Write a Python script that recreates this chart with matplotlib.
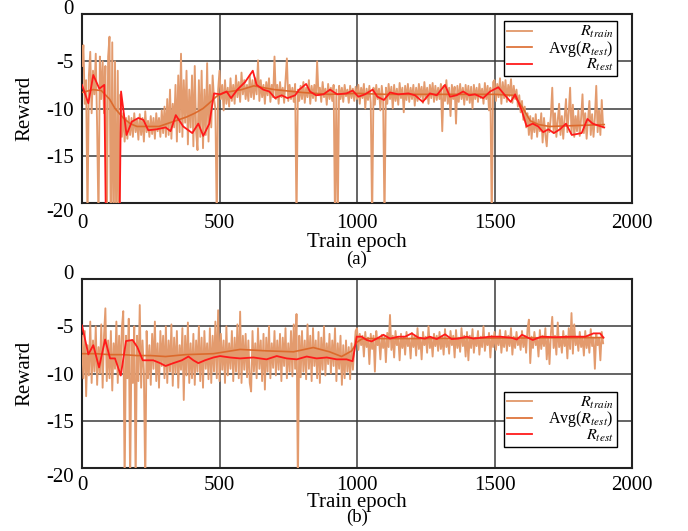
import numpy as np
import matplotlib
matplotlib.use("Agg")
import matplotlib.pyplot as plt
import matplotlib.transforms as mtransforms

plt.rcParams['font.family'] = ['Liberation Serif', 'DejaVu Serif']
plt.rcParams['mathtext.fontset'] = 'stix'

# ---------------- data ----------------
train_epochs = list(range(0, 1900, 5))

train_a = [
    -5.5, -3.3, -9.5, -7.0, -22, -6.5, -4.0, -10.5, -6.0, -8.5, -4.2, -12.0, -22, -4.5, -9.0, -5.0, -10.5, -5.5, -24, -4.5,
    -2.4, -25, -3.0, -24, -5.0, -25, -6.0, -24, -8.5, -13.0, -10.5, -13.5, -11.0, -13.2, -10.8, -12.8, -11.0, -13.0, -10.5, -12.5,
    -11.2, -13.3, -10.6, -12.8, -11.0, -13.5, -10.3, -12.5, -11.3, -13.0, -10.8, -12.7, -11.0, -13.2, -10.5, -12.4, -11.0, -13.0, -10.2, -12.6,
    -9.8, -13.0, -9.0, -12.8, -8.0, -13.2, -9.5, -12.0, -7.5, -13.5, -6.5, -12.5, -4.2, -13.0, -7.0, -11.5, -6.0, -13.8, -8.0, -12.0,
    -6.5, -14.0, -5.5, -12.5, -14.4, -7.0, -13.0, -6.0, -14.2, -8.0, -12.8, -5.2, -13.5, -7.5, -12.0, -6.5, -9.0, -10.0, -22, -8.0,
    -6.0, -9.0, -7.5, -10.2, -7.0, -9.5, -7.8, -9.8, -6.8, -9.2, -7.5, -9.5, -6.5, -8.8, -7.2, -9.3, -6.2, -8.5, -7.0, -9.0,
    -7.5, -9.2, -6.5, -8.8, -7.0, -9.0, -6.8, -8.5, -4.9, -9.2, -7.0, -8.8, -7.5, -9.5, -7.2, -8.6, -6.8, -9.3, -7.5, -8.8,
    -4.5, -9.0, -7.5, -9.5, -7.2, -8.8, -7.8, -9.4, -7.0, -4.7, -9.2, -7.5, -9.0, -7.8, -9.3, -7.4, -22, -8.0, -9.2, -7.6,
    -9.0, -7.2, -9.4, -7.8, -8.8, -7.0, -9.5, -7.6, -8.9, -7.5, -9.2, -5.0, -8.6, -7.8, -9.3, -7.2, -8.8, -7.9, -9.6, -7.4,
    -9.0, -7.8, -9.2, -7.5, -22, -8.0, -22, -7.6, -9.0, -7.8, -9.3, -7.5, -8.7, -8.0, -9.4, -7.6, -8.9, -7.9, -9.2, -7.7,
    -9.0, -7.5, -9.5, -7.8, -8.9, -7.4, -10.0, -7.9, -9.1, -7.6, -9.4, -22, -7.8, -9.6, -7.5, -9.0, -7.9, -10.2, -7.6, -9.1,
    -22, -7.8, -9.5, -7.4, -9.0, -7.7, -10.0, -7.5, -9.2, -7.9, -9.6, -7.3, -8.9, -7.8, -10.4, -7.6, -9.1, -7.4, -9.3, -7.8,
    -9.0, -7.5, -9.7, -7.8, -9.2, -7.4, -8.8, -7.7, -9.4, -7.2, -9.0, -7.8, -9.5, -7.5, -8.9, -7.3, -9.3, -7.6, -9.1, -7.8,
    -9.0, -7.4, -12.4, -7.6, -9.2, -7.0, -9.5, -7.8, -10.8, -7.5, -9.0, -7.7, -11.6, -7.6, -9.3, -7.4, -9.0, -7.8, -9.6, -7.5,
    -9.1, -7.6, -9.4, -7.7, -10.0, -7.5, -9.0, -7.8, -9.3, -7.4, -8.9, -7.9, -9.5, -7.3, -9.0, -7.6, -10.2, -7.8, -22, -7.2,
    -7.0, -9.2, -7.4, -8.8, -6.8, -9.5, -7.2, -8.9, -7.0, -9.3, -7.5, -8.7, -6.9, -9.4, -7.6, -9.0, -8.0, -9.8, -8.6, -10.4,
    -9.2, -11.2, -9.8, -12.0, -10.5, -12.8, -10.8, -13.2, -11.0, -12.5, -10.6, -13.0, -11.2, -12.4, -10.5, -13.6, -11.0, -12.8, -14.0, -11.5,
    -12.5, -10.8, -7.8, -12.6, -10.5, -13.0, -11.2, -9.5, -12.8, -10.8, -13.2, -11.0, -9.0, -12.5, -10.4, -7.8, -12.7, -9.6, -13.0, -10.8,
    -12.4, -10.2, -12.9, -11.0, -8.5, -12.6, -10.5, -13.2, -11.2, -9.2, -12.8, -10.6, -13.0, -11.0, -7.6, -12.5, -10.2, -12.8, -9.1, -12.0,
]

train_b = [
    -6.0, -10.5, -5.5, -12.4, -7.0, -10.2, -4.5, -11.0, -6.5, -9.8, -5.0, -11.2, -7.2, -10.0, -4.8, -11.5, -6.0, -3.1, -10.8, -6.5,
    -10.5, -5.5, -11.8, -6.8, -9.5, -4.5, -11.0, -6.0, -10.2, -5.2, -3.4, -22, -6.0, -10.5, -4.2, -22, -6.5, -11.0, -5.0, -22,
    -6.0, -10.8, -2.75, -11.5, -6.5, -9.8, -22, -5.5, -10.5, -7.0, -11.2, -5.8, -9.5, -4.5, -10.8, -6.8, -11.5, -5.5, -9.2, -6.0,
    -10.5, -5.0, -11.0, -6.5, -9.8, -4.8, -11.3, -6.2, -10.0, -5.5, -11.5, -7.0, -9.6, -5.2, -12.8, -6.0, -10.2, -4.6, -11.0, -6.8,
    -10.5, -5.8, -11.2, -6.5, -9.8, -5.0, -10.8, -6.2, -11.5, -5.5, -9.5, -6.8, -10.6, -5.2, -11.0, -6.0, -9.8, -4.5, -10.5, -3.3,
    -10.8, -5.8, -9.6, -6.5, -11.0, -5.0, -10.2, -6.8, -9.5, -5.5, -10.8, -6.2, -9.8, -4.8, -10.5, -3.45, -11.0, -6.0, -9.6, -5.8,
    -10.4, -6.5, -11.0, -11.9, -5.5, -9.8, -6.8, -10.5, -5.2, -9.5, -6.5, -10.8, -5.8, -11.7, -6.2, -9.8, -5.0, -10.5, -6.8, -9.4,
    -5.5, -10.2, -6.5, -9.6, -5.8, -10.8, -6.2, -9.2, -5.2, -10.5, -6.8, -9.8, -5.5, -10.3, -4.8, -9.5, -3.7, -22, -6.0, -10.4,
    -5.5, -9.8, -6.5, -10.6, -4.8, -9.5, -6.0, -10.8, -5.2, -9.2, -6.5, -10.5, -5.6, -11.0, -6.2, -9.6, -5.0, -10.2, -6.8, -9.0,
    -5.8, -10.0, -6.5, -9.2, -5.2, -10.8, -6.8, -9.5, -6.0, -11.2, -7.0, -10.5, -6.5, -9.8, -7.2, -10.6, -6.8, -9.6, -7.5, -5.5,
    -5.2, -7.5, -5.8, -7.0, -6.0, -8.2, -5.6, -7.2, -6.2, -9.0, -5.8, -7.4, -6.0, -9.8, -5.5, -7.0, -6.3, -8.5, -5.9, -7.3,
    -6.0, -8.8, -5.7, -7.2, -3.8, -7.5, -6.0, -8.3, -5.5, -7.0, -6.2, -8.6, -5.8, -7.3, -6.1, -8.0, -5.6, -7.1, -6.3, -8.4,
    -5.7, -7.2, -6.0, -8.1, -5.2, -7.4, -6.2, -8.5, -5.6, -7.0, -6.1, -7.8, -5.0, -7.3, -6.2, -8.2, -5.8, -7.1, -6.0, -7.6,
    -5.6, -7.4, -6.1, -8.0, -5.3, -7.2, -6.3, -7.9, -5.5, -7.0, -6.0, -8.3, -5.4, -7.3, -6.2, -7.7, -5.2, -7.1, -6.0, -8.2,
    -5.6, -8.6, -6.0, -7.3, -5.3, -7.8, -6.2, -7.1, -5.5, -8.0, -6.1, -7.2, -5.0, -7.6, -6.3, -7.0, -5.7, -8.3, -6.0, -7.2,
    -5.6, -7.5, -6.1, -7.0, -5.4, -7.8, -6.2, -7.2, -5.5, -7.6, -6.0, -7.1, -5.2, -8.0, -6.1, -7.3, -5.6, -7.0, -6.3, -7.5,
    -5.5, -7.2, -6.0, -7.8, -5.3, -4.3, -8.9, -6.1, -7.3, -5.6, -7.0, -6.2, -8.2, -5.4, -7.4, -6.0, -7.1, -5.2, -8.5, -6.1,
    -9.0, -5.8, -4.0, -7.3, -6.0, -8.0, -4.6, -7.2, -6.2, -7.8, -5.5, -7.1, -6.0, -8.4, -5.2, -7.4, -3.6, -7.9, -4.8, -7.0,
    -6.1, -7.6, -5.6, -7.2, -6.2, -8.1, -5.5, -7.3, -6.0, -7.8, -5.3, -7.1, -6.2, -9.5, -5.8, -7.0, -6.2, -8.6, -5.6, -6.8,
]

test_a_epochs = [0, 23, 41, 63, 81, 102, 122, 142, 162, 181, 205, 223, 241, 271, 304, 322, 341, 368, 401, 423,
                 441, 463, 480, 502, 526, 542, 565, 593, 621, 635, 659, 681, 702, 726, 747, 775, 790, 815, 829, 851,
                 878, 902, 928, 962, 984, 1005, 1029, 1057, 1074, 1098, 1120, 1150, 1187, 1211, 1239, 1265, 1290, 1320, 1338, 1362,
                 1386, 1408, 1429, 1459, 1484, 1514, 1538, 1559, 1575, 1599, 1617, 1639, 1659, 1677, 1696, 1716, 1738, 1760, 1781, 1817,
                 1838, 1857, 1877, 1899]
test_a = [-7.5, -9.45, -6.45, -7.9, -7.5, -60, -60, -8.2, -12.8, -11.4, -11.0, -11.2, -12.3, -12.2, -12.0, -12.4, -10.7, -11.9, -12.6, -11.6,
          -12.9, -11.6, -8.4, -8.5, -8.2, -8.9, -8.0, -7.2, -6.0, -7.5, -8.0, -8.2, -8.9, -8.6, -8.9, -8.6, -8.0, -7.4, -8.2, -8.6,
          -8.5, -8.0, -8.5, -8.4, -8.1, -8.75, -8.5, -8.0, -8.75, -9.1, -8.3, -8.5, -8.4, -8.6, -9.3, -8.4, -8.6, -7.5, -8.75, -8.6,
          -8.2, -8.6, -8.5, -8.9, -8.2, -7.75, -8.6, -9.3, -8.5, -10.2, -11.9, -11.6, -11.9, -12.5, -12.2, -12.6, -12.2, -11.6, -12.8, -12.6,
          -11.1, -11.6, -11.8, -12.0]

avg_a_epochs = [0, 40, 70, 100, 120, 150, 175, 200, 280, 310, 350, 380, 410, 440, 460, 490, 520, 580, 625, 660,
                700, 800, 900, 1000, 1100, 1300, 1500, 1570, 1600, 1630, 1660, 1700, 1800, 1899]
avg_a = [-8.3, -8.0, -8.1, -9.0, -10.0, -11.0, -11.6, -11.9, -11.9, -11.6, -11.2, -10.9, -10.5, -10.0, -9.5, -8.7, -8.3, -8.0, -7.6, -7.8,
         -8.0, -8.3, -8.5, -8.4, -8.5, -8.5, -8.5, -8.6, -9.8, -11.3, -11.7, -11.9, -11.8, -11.7]

test_b_epochs = [0, 23, 41, 62, 84, 102, 120, 141, 160, 184, 201, 221, 259, 284, 304, 332, 363, 387, 405, 423,
                 447, 478, 502, 538, 575, 623, 671, 708, 744, 781, 817, 853, 890, 926, 962, 984, 999, 1017, 1035, 1053,
                 1072, 1096, 1120, 1150, 1175, 1199, 1223, 1247, 1265, 1290, 1320, 1344, 1368, 1399, 1423, 1453, 1484, 1520, 1560, 1581,
                 1600, 1639, 1670, 1720, 1780, 1830, 1860, 1884, 1896]
test_b = [-4.9, -7.97, -7.0, -9.35, -6.4, -8.4, -8.4, -10.2, -6.56, -6.45, -7.2, -8.6, -8.6, -8.9, -9.2, -8.9, -8.6, -8.2, -8.6, -8.9,
          -8.6, -8.3, -8.15, -8.3, -8.4, -8.3, -8.5, -8.15, -8.4, -8.5, -8.2, -8.4, -8.3, -8.5, -8.5, -8.7, -6.1, -6.1, -6.45, -6.6,
          -6.3, -5.9, -6.3, -6.1, -6.1, -5.75, -6.2, -6.3, -6.1, -6.35, -5.85, -6.35, -6.3, -6.1, -6.3, -6.2, -6.1, -6.1, -6.2, -6.4,
          -5.9, -6.45, -6.1, -6.15, -6.1, -6.1, -5.75, -5.75, -6.2]

avg_b_epochs = [0, 50, 100, 150, 200, 250, 304, 377, 478, 575, 671, 769, 841, 900, 944, 981, 999, 1017, 1044, 1200, 1500, 1896]
avg_b = [-7.9, -7.9, -8.0, -8.0, -8.1, -8.1, -8.2, -8.0, -7.9, -7.45, -7.6, -7.7, -7.25, -7.7, -8.2, -7.6, -6.7, -6.35, -6.3, -6.3, -6.25, -6.2]

x_ticks = [0, 500, 1000, 1500, 2000]
y_ticks = [0, -5, -10, -15, -20]
labels = [r'$R_{train}$', r'Avg($R_{test}$)', r'$R_{test}$']

# ---------------- plotting ----------------
c_train = '#e39b6e'
c_avg = '#dc6a2c'
c_test = '#ff1a1a'

fig = plt.figure(figsize=(6.88, 5.31), dpi=100)
ax_a = fig.add_axes([0.1192, 0.6177, 0.7994, 0.3559])
ax_b = fig.add_axes([0.1192, 0.1186, 0.7994, 0.3559])


def draw(ax, tr, te_x, te, av_x, av, legend_loc, anchor, sub, xpad, lpad, sub_y):
    ax.plot(train_epochs, tr, color=c_train, lw=1.35, label=labels[0], zorder=3)
    ax.plot(av_x, av, color=c_avg, lw=1.2, label=labels[1], zorder=4)
    ax.plot(te_x, te, color=c_test, lw=1.3, label=labels[2], zorder=5)
    ax.set_xlim(0, 2000)
    ax.set_ylim(-20, 0)
    ax.set_xticks(x_ticks)
    ax.set_yticks(y_ticks)
    ax.set_xticklabels([str(t) for t in x_ticks])
    ax.set_yticklabels([str(t) for t in y_ticks])
    ax.tick_params(length=0, labelsize=15, pad=6)
    ax.tick_params(axis='x', pad=xpad)
    ax.grid(True, color='#3a3a3a', lw=1.1, zorder=1)
    ax.set_axisbelow(True)
    for s in ax.spines.values():
        s.set_color('#222222')
        s.set_linewidth(1.5)
    ax.set_xlabel('Train epoch', fontsize=15, labelpad=lpad)
    ax.set_ylabel('Reward', fontsize=15, labelpad=8)
    ax.text(0.5, sub_y, sub, transform=ax.transAxes, ha='center', va='top', fontsize=13.5)
    leg = ax.legend(loc=legend_loc, bbox_to_anchor=anchor, fontsize=11.5, frameon=True,
                    fancybox=False, edgecolor='black', framealpha=1.0, handlelength=1.6,
                    borderpad=0.2, labelspacing=-0.1, handletextpad=1.0, borderaxespad=0.0)
    leg.get_frame().set_linewidth(1.0)
    leg.set_zorder(10)
    # end labels of the y axis sit slightly outside the axis range
    for tick in ax.yaxis.get_major_ticks():
        loc = tick.get_loc()
        if loc == 0:
            off = mtransforms.ScaledTranslation(0, 0.07, fig.dpi_scale_trans)
        elif loc == -20:
            off = mtransforms.ScaledTranslation(0, -0.07, fig.dpi_scale_trans)
        else:
            continue
        tick.label1.set_transform(tick.label1.get_transform() + off)
    return leg


legs = [draw(ax_a, train_a, test_a_epochs, test_a, avg_a_epochs, avg_a, 'upper right', (0.973, 0.963), '(a)',
             8, 0, -0.25),
        draw(ax_b, train_b, test_b_epochs, test_b, avg_b_epochs, avg_b, 'lower right', (0.973, 0.111), '(b)',
             6, -2, -0.215)]

# right-align legend texts by widening the gap between handle and text
fig.canvas.draw()
renderer = fig.canvas.get_renderer()
for leg in legs:
    texts = leg.get_texts()
    ws = [t.get_window_extent(renderer).width for t in texts]
    wmax = max(ws)
    cols = leg._legend_handle_box.get_children()
    entries = [e for c in cols for e in c.get_children()]
    for e, w in zip(entries, ws):
        e.sep = e.sep + (wmax - w) * 72.0 / fig.dpi

fig.savefig('out.png', dpi=100)
